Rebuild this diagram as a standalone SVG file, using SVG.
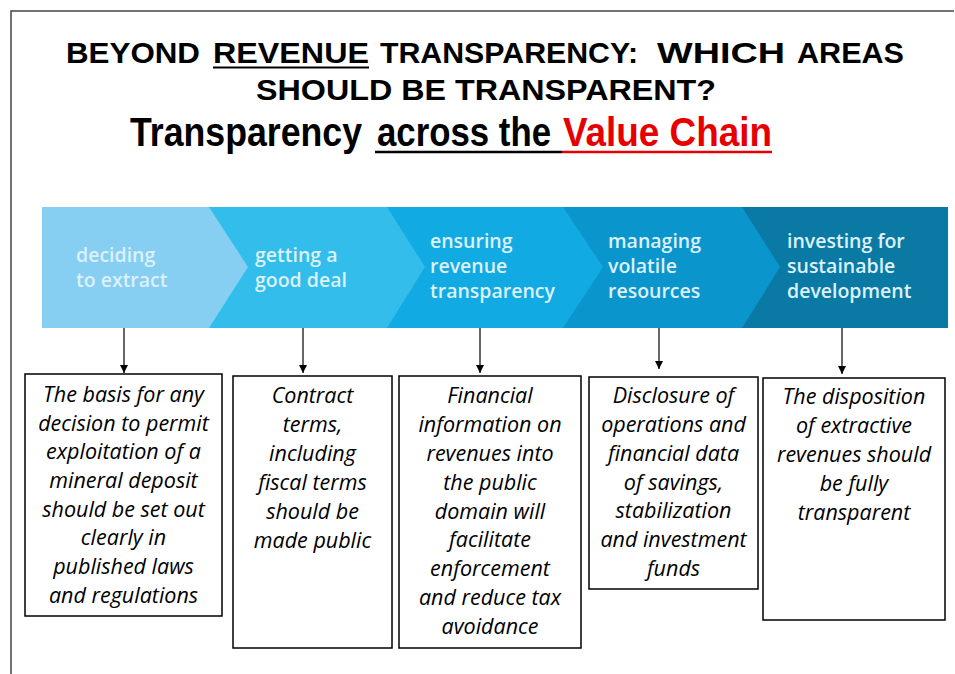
<svg xmlns="http://www.w3.org/2000/svg" width="955" height="674" viewBox="0 0 955 674">
<defs>
<style>
.title{font-family:"Liberation Sans",Arial,sans-serif;font-weight:bold;font-size:30px;fill:#000}
.sub{font-family:"Liberation Sans",Arial,sans-serif;font-weight:bold;font-size:41px}
.band{font-family:"Open Sans","DejaVu Sans",sans-serif;font-weight:600;font-size:19.5px;fill:#dcf1fb}
.box{fill:#fff;stroke:#000;stroke-width:1.5}
.bt{font-family:"Open Sans","DejaVu Sans",sans-serif;font-style:italic;font-size:21.5px;fill:#000;text-anchor:middle}
.conn{stroke:#000;stroke-width:1.2;fill:none}
</style>
<marker id="ah" viewBox="0 0 10 10" refX="10" refY="5" markerWidth="8" markerHeight="8" markerUnits="userSpaceOnUse" orient="auto">
<path d="M0,0 L10,5 L0,10 z" fill="#000"/>
</marker>
</defs>
<rect width="955" height="674" fill="#fff"/>
<path d="M11,674 V11 H954" stroke="#444" stroke-width="1.5" fill="none"/>

<g id="title">
<text class="title" x="66" y="63" textLength="134" lengthAdjust="spacingAndGlyphs">BEYOND</text>
<text class="title" x="213" y="63" textLength="156" lengthAdjust="spacingAndGlyphs">REVENUE</text>
<line x1="213" y1="67.5" x2="369" y2="67.5" stroke="#000" stroke-width="2"/>
<text class="title" x="380" y="63" textLength="258" lengthAdjust="spacingAndGlyphs">TRANSPARENCY:</text>
<text class="title" x="657" y="63" textLength="128" lengthAdjust="spacingAndGlyphs">WHICH</text>
<text class="title" x="797" y="63" textLength="107" lengthAdjust="spacingAndGlyphs">AREAS</text>
<text class="title" x="256" y="100" textLength="460" lengthAdjust="spacingAndGlyphs">SHOULD BE TRANSPARENT?</text>
</g>

<g id="subtitle">
<text class="sub" y="146"><tspan x="130" textLength="232" lengthAdjust="spacingAndGlyphs" fill="#000">Transparency</tspan><tspan x="377" textLength="174" lengthAdjust="spacingAndGlyphs" fill="#000">across the</tspan><tspan x="563" textLength="209" lengthAdjust="spacingAndGlyphs" fill="#e60000">Value Chain</tspan></text>
<line x1="375" y1="152" x2="562" y2="152" stroke="#000" stroke-width="2.5"/>
<line x1="562" y1="152" x2="772" y2="152" stroke="#e60000" stroke-width="2.5"/>
</g>

<g id="banner">
<rect x="42" y="207" width="906" height="121" fill="#0a7aa5"/>
<polygon points="42,207 742,207 780,267 742,328 42,328" fill="#0b95cd"/>
<polygon points="42,207 563,207 603,267 563,328 42,328" fill="#12aae3"/>
<polygon points="42,207 387,207 425,267 387,328 42,328" fill="#33bdeb"/>
<polygon points="42,207 209,207 248,267 209,328 42,328" fill="#86cff3"/>
</g>

<g id="stage1"><text class="band" x="76" y="262">deciding</text><text class="band" x="76" y="287">to extract</text></g>
<g id="stage2"><text class="band" x="255" y="262">getting a</text><text class="band" x="255" y="287">good deal</text></g>
<g id="stage3"><text class="band" x="430" y="248">ensuring</text><text class="band" x="430" y="273">revenue</text><text class="band" x="430" y="298">transparency</text></g>
<g id="stage4"><text class="band" x="608" y="248">managing</text><text class="band" x="608" y="273">volatile</text><text class="band" x="608" y="298">resources</text></g>
<g id="stage5"><text class="band" x="787" y="248">investing for</text><text class="band" x="787" y="273">sustainable</text><text class="band" x="787" y="298">development</text></g>

<g id="connectors">
<line class="conn" x1="124" y1="328" x2="124" y2="373" marker-end="url(#ah)"/>
<line class="conn" x1="303" y1="328" x2="303" y2="373" marker-end="url(#ah)"/>
<line class="conn" x1="480" y1="328" x2="480" y2="373" marker-end="url(#ah)"/>
<line class="conn" x1="659" y1="328" x2="659" y2="369" marker-end="url(#ah)"/>
<line class="conn" x1="842" y1="328" x2="842" y2="374" marker-end="url(#ah)"/>
</g>

<g id="box1">
<rect class="box" x="25" y="374" width="197" height="242"/>
<text class="bt"><tspan x="123.5" y="402">The basis for any</tspan><tspan x="123.5" y="431">decision to permit</tspan><tspan x="123.5" y="459">exploitation of a</tspan><tspan x="123.5" y="488">mineral deposit</tspan><tspan x="123.5" y="517">should be set out</tspan><tspan x="123.5" y="545">clearly in</tspan><tspan x="123.5" y="574">published laws</tspan><tspan x="123.5" y="603">and regulations</tspan></text>
</g>
<g id="box2">
<rect class="box" x="233" y="376" width="159" height="272"/>
<text class="bt"><tspan x="312.5" y="403">Contract</tspan><tspan x="312.5" y="432">terms,</tspan><tspan x="312.5" y="461">including</tspan><tspan x="312.5" y="490">fiscal terms</tspan><tspan x="312.5" y="519">should be</tspan><tspan x="312.5" y="548">made public</tspan></text>
</g>
<g id="box3">
<rect class="box" x="399" y="376" width="182" height="272"/>
<text class="bt"><tspan x="490" y="403">Financial</tspan><tspan x="490" y="432">information on</tspan><tspan x="490" y="461">revenues into</tspan><tspan x="490" y="490">the public</tspan><tspan x="490" y="519">domain will</tspan><tspan x="490" y="547">facilitate</tspan><tspan x="490" y="576">enforcement</tspan><tspan x="490" y="605">and reduce tax</tspan><tspan x="490" y="634">avoidance</tspan></text>
</g>
<g id="box4">
<rect class="box" x="589" y="377" width="169" height="212"/>
<text class="bt"><tspan x="673.5" y="403">Disclosure of</tspan><tspan x="673.5" y="432">operations and</tspan><tspan x="673.5" y="461">financial data</tspan><tspan x="673.5" y="490">of savings,</tspan><tspan x="673.5" y="518">stabilization</tspan><tspan x="673.5" y="547">and investment</tspan><tspan x="673.5" y="576">funds</tspan></text>
</g>
<g id="box5">
<rect class="box" x="763" y="378" width="182" height="242"/>
<text class="bt"><tspan x="854" y="404">The disposition</tspan><tspan x="854" y="433">of extractive</tspan><tspan x="854" y="462">revenues should</tspan><tspan x="854" y="491">be fully</tspan><tspan x="854" y="520">transparent</tspan></text>
</g>
</svg>
